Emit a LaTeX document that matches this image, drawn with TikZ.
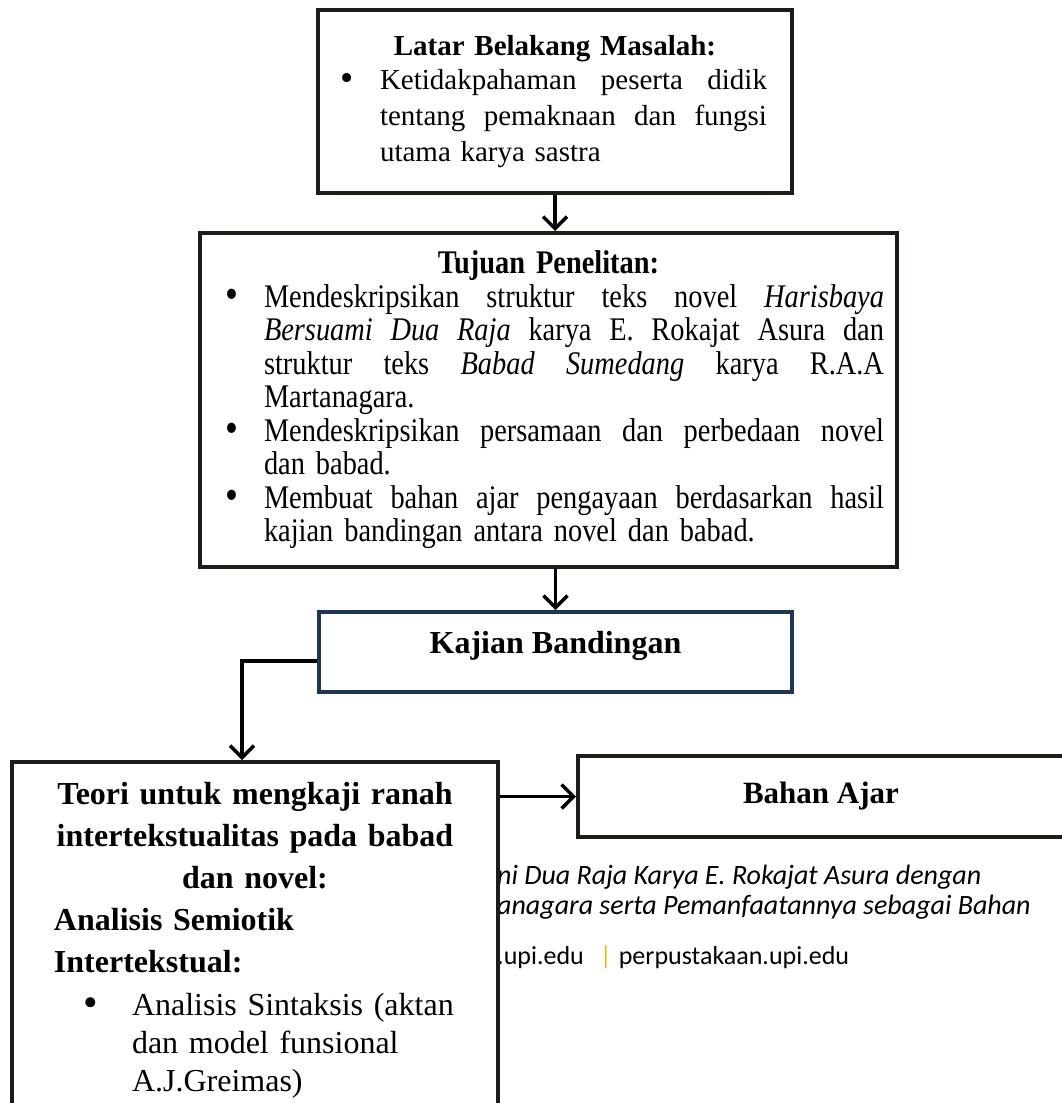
\documentclass[tikz,border=0pt]{standalone}
\usepackage{fontspec}
\setmainfont{Liberation Serif}
\newfontfamily\condserif[FakeStretch=0.86]{Liberation Serif}
\newfontfamily\wmfont{Carlito}
\usepackage{graphicx}
\usepackage{xcolor}
\definecolor{boxline}{HTML}{1E1C16}
\definecolor{navyline}{HTML}{1F3553}
\definecolor{upigold}{HTML}{F5B41E}
\usetikzlibrary{arrows.meta}
\newcommand{\jline}[2]{\makebox[#1][s]{#2}}
\newcommand{\bul}{\makebox[0pt]{\raisebox{-1pt}{\scalebox{1.3}{\textbullet}}}}

\begin{document}
\begin{tikzpicture}[x=1pt, y=-1pt,
    box/.style={draw=boxline, fill=white, line width=4pt, inner sep=0pt, align=left},
    arrow/.style={draw=black, line width=3.5pt, -{Straight Barb[length=12pt,width=24pt]}},
    wm/.style={anchor=base west, inner sep=0pt, font=\wmfont\fontsize{28}{30}\selectfont},
]
\useasboundingbox (0,0) rectangle (1062,1103);
\clip (0,0) rectangle (1062,1103);

% Teks latar halaman
\node[wm] (wm1) at (497, 884) {\itshape ni Dua Raja Karya E. Rokajat Asura dengan};
\node[wm] (wm2) at (497, 914) {\itshape anagara serta Pemanfaatannya sebagai Bahan};
\node[wm, font=\wmfont\fontsize{26}{28}\selectfont] (wm3) at (497, 964) {.upi.edu\hspace{16pt}\textcolor{upigold}{|}\hspace{7pt}perpustakaan.upi.edu};

% Latar belakang
\node[box, text width=474pt, minimum height=183pt, font=\fontsize{29}{36}\selectfont] (latar) at (555, 101.5) {%
    \makebox[474pt][c]{\bfseries Latar Belakang Masalah:}\\[-2pt]
    \hspace*{29pt}\bul\hspace*{33pt}\jline{387pt}{Ketidakpahaman\hfill peserta\hfill didik}\\
    \hspace*{62pt}\jline{387pt}{tentang\hfill pemaknaan\hfill dan\hfill fungsi}\\
    \hspace*{62pt}utama karya sastra};

% Tujuan
\node[box, text width=697pt, minimum height=334pt, font=\condserif\fontsize{33}{33.5}\selectfont] (tujuan) at (548.5, 400) {%
    \makebox[697pt][c]{\bfseries Tujuan Penelitan:}\\
    \hspace*{32pt}\bul\hspace*{32pt}\jline{620pt}{Mendeskripsikan\hfill struktur\hfill teks\hfill novel\hfill\textit{Harisbaya}}\\
    \hspace*{64pt}\jline{620pt}{\textit{Bersuami}\hfill\textit{Dua}\hfill\textit{Raja}\hfill karya\hfill E.\hfill Rokajat\hfill Asura\hfill dan}\\
    \hspace*{64pt}\jline{620pt}{struktur\hfill teks\hfill\textit{Babad}\hfill\textit{Sumedang}\hfill karya\hfill R.A.A}\\
    \hspace*{64pt}Martanagara.\\
    \hspace*{32pt}\bul\hspace*{32pt}\jline{620pt}{Mendeskripsikan\hfill persamaan\hfill dan\hfill perbedaan\hfill novel}\\
    \hspace*{64pt}dan babad.\\
    \hspace*{32pt}\bul\hspace*{32pt}\jline{620pt}{Membuat\hfill bahan\hfill ajar\hfill pengayaan\hfill berdasarkan\hfill hasil}\\
    \hspace*{64pt}kajian bandingan antara novel dan babad.};

% Kajian
\node[box, draw=navyline, minimum width=473pt, minimum height=80pt, text height=22pt, text depth=19pt,
      font=\bfseries\fontsize{32}{34}\selectfont] (kajian) at (555.5, 652) {Kajian Bandingan};

% Teori
\node[box, text width=486pt, minimum height=357pt, font=\bfseries\fontsize{32}{42}\selectfont] (teori) at (255, 940.5) {%
    \makebox[486pt][c]{Teori untuk mengkaji ranah}\\
    \makebox[486pt][c]{intertekstualitas pada babad}\\
    \makebox[486pt][c]{dan novel:}\\
    \hspace*{42pt}Analisis Semiotik\\
    \hspace*{42pt}Intertekstual:\\[1pt]
    \mdseries\hspace*{79pt}\bul\hspace*{41pt}Analisis Sintaksis (aktan\\[-4pt]
    \mdseries\hspace*{120pt}dan model funsional\\[-4pt]
    \mdseries\hspace*{120pt}A.J.Greimas)};

% Bahan ajar
\node[box, minimum width=486pt, minimum height=81pt, font=\bfseries\fontsize{31}{33}\selectfont] (bahan) at (821, 796.5) {Bahan Ajar};

% Panah
\draw[arrow] (latar.south) -- (latar.south |- tujuan.north);
\draw[arrow] (tujuan.south -| kajian.north) -- (kajian.north);
\draw[arrow] ([yshift=-9pt]kajian.west) -| ([xshift=-13pt]teori.north);
\draw[arrow] (teori.east |- bahan.west) -- (bahan.west);

\end{tikzpicture}
\end{document}
